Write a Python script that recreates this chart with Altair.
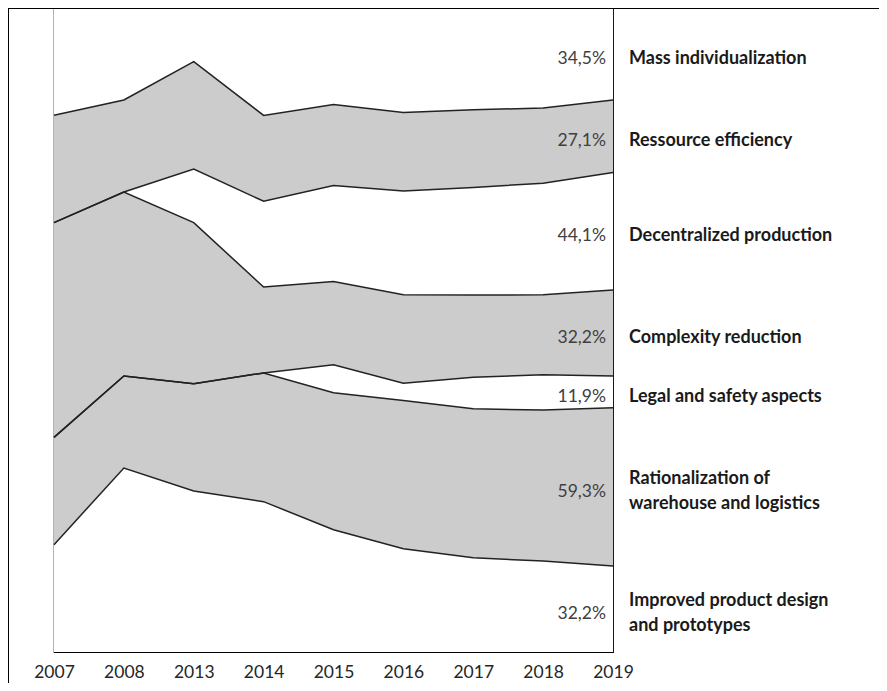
import altair as alt
import pandas as pd

years = ["2007", "2008", "2013", "2014", "2015", "2016", "2017", "2018", "2019"]

categories = [
    "Improved product design and prototypes",
    "Rationalization of warehouse and logistics",
    "Legal and safety aspects",
    "Complexity reduction",
    "Decentralized production",
    "Ressource efficiency",
    "Mass individualization",
]

label_text = [
    "Improved product design\nand prototypes",
    "Rationalization of\nwarehouse and logistics",
    "Legal and safety aspects",
    "Complexity reduction",
    "Decentralized production",
    "Ressource efficiency",
    "Mass individualization",
]

improved = [40.0, 68.6, 60.0, 56.4, 45.8, 38.7, 35.3, 34.1, 32.2]
rationalization = [40.0, 34.3, 40.0, 48.3, 51.3, 55.5, 55.8, 56.6, 59.3]
legal = [0.0, 0.0, 0.0, 0.0, 10.5, 6.5, 11.8, 13.2, 11.9]
complexity = [80.0, 68.6, 60.0, 32.2, 31.2, 33.1, 30.8, 30.0, 32.2]
decentralized = [0.0, 0.0, 20.0, 32.2, 35.9, 38.9, 40.3, 41.8, 44.1]
ressource = [40.0, 34.3, 40.0, 32.2, 30.4, 29.4, 29.1, 28.2, 27.1]
mass = [40.0, 34.3, 20.0, 40.3, 36.1, 39.1, 38.1, 37.5, 34.5]

series = [improved, rationalization, legal, complexity, decentralized, ressource, mass]
fills = ["#ffffff", "#cccccc", "#ffffff", "#cccccc", "#ffffff", "#cccccc", "#ffffff"]

rows = []
for i, (cat, vals) in enumerate(zip(categories, series)):
    for y, v in zip(years, vals):
        rows.append({
            "year": y,
            "category": cat,
            "order": i,
            "value": v,
            "label": label_text[i],
            "multiline": "\n" in label_text[i],
            "pct": f"{v:.1f}%".replace(".", ","),
        })
df = pd.DataFrame(rows)

FONT = "Lato"

x_enc = alt.X(
    "year:O",
    sort=years,
    scale=alt.Scale(type="point", padding=0),
    axis=alt.Axis(
        title=None, labelAngle=0, ticks=False, domain=True, domainColor="#000000",
        labelFontSize=17.5, labelPadding=11, labelColor="#262626", labelFont=FONT,
    ),
)
y_scale = alt.Scale(domain=[0, 1], nice=False, zero=False)

base = alt.Chart(df).transform_stack(
    stack="value",
    groupby=["year"],
    as_=["y0", "y1"],
    offset="normalize",
    sort=[alt.SortField("order", order="ascending")],
)

area = base.mark_area(opacity=1, strokeWidth=0).encode(
    x=x_enc,
    y=alt.Y("y0:Q", scale=y_scale, axis=None),
    y2="y1:Q",
    color=alt.Color("category:N", scale=alt.Scale(domain=categories, range=fills), legend=None),
)

lines = base.mark_line(color="#222222", strokeWidth=1.5).encode(
    x=x_enc,
    y=alt.Y("y1:Q", scale=y_scale, axis=None),
    detail="category:N",
)

lab = base.transform_filter(alt.datum.year == "2019").transform_calculate(
    mid="(datum.y0 + datum.y1) / 2"
)

pct = lab.mark_text(align="right", baseline="middle", dx=-7, dy=5, fontSize=17.5, font=FONT, color="#404040").encode(
    x=x_enc,
    y=alt.Y("mid:Q", scale=y_scale, axis=None),
    text="pct:N",
)

names_single = lab.transform_filter("!datum.multiline").mark_text(
    align="left", baseline="middle", dx=16, dy=5, fontSize=18, font=FONT, fontWeight="bold",
    color="#1a1a1a",
).encode(
    x=x_enc,
    y=alt.Y("mid:Q", scale=y_scale, axis=None),
    text="label:N",
)

names_multi = lab.transform_filter("datum.multiline").mark_text(
    align="left", baseline="middle", dx=16, dy=-8, fontSize=18, font=FONT, fontWeight="bold",
    color="#1a1a1a", lineBreak="\n", lineHeight=25,
).encode(
    x=x_enc,
    y=alt.Y("mid:Q", scale=y_scale, axis=None),
    text="label:N",
)

frame_df = pd.DataFrame({"k": [0]})
top_rule = alt.Chart(frame_df).mark_rule(color="#000000", strokeWidth=2).encode(
    x=alt.value(-46), x2=alt.value(826), y=alt.value(0)
)
left_rule = alt.Chart(frame_df).mark_rule(color="#000000", strokeWidth=1).encode(
    x=alt.value(-45.5), y=alt.value(0), y2=alt.value(676)
)

chart = alt.layer(area, lines, pct, names_single, names_multi, top_rule, left_rule).properties(
    width=559,
    height=644,
    autosize=alt.AutoSizeParams(type="none"),
    padding={"left": 46, "top": 0, "right": 266, "bottom": 31},
).configure_view(stroke="#000000", strokeWidth=1.2)

chart.save("out.html", embed_options={"renderer": "svg", "actions": False})
